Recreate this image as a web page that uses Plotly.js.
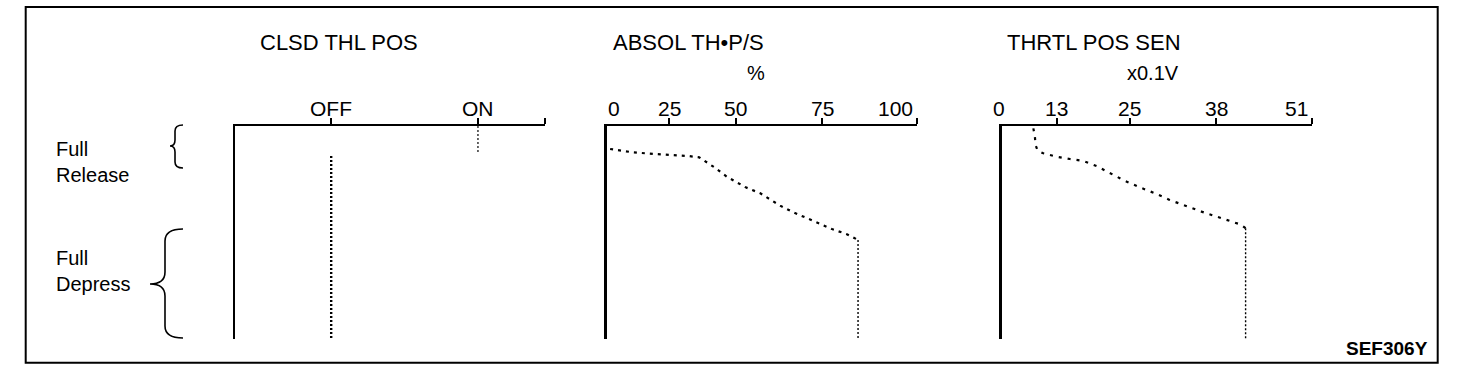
<!DOCTYPE html>
<html>
<head>
<meta charset="utf-8">
<script src="https://cdn.plot.ly/plotly-3.0.1.min.js"></script>
<style>html,body{margin:0;padding:0;background:#fff;}#chart{width:1472px;height:378px;}</style>
</head>
<body>
<div id="chart"></div>
<script>
// ---------- data (x in drawing units 0-100 along each top axis, y 0 = Full Release .. 100 = Full Depress) ----------
const panelTitles = ['CLSD THL POS', 'ABSOL TH\u2022P/S', 'THRTL POS SEN'];
const panelUnits  = ['', '%', 'x0.1V'];

const clsdTickPos  = [31.0, 78.3, 100];
const clsdTickText = ['OFF', 'ON', ''];
const absolTickPos  = [0, 20.1, 41.6, 69.4, 100];
const absolTickText = ['0', '25', '50', '75', '100'];
const tpsTickPos  = [0, 17.7, 41.3, 69.2, 100];
const tpsTickText = ['0', '13', '25', '38', '51'];

// CLSD THL POS: ON near full release, then OFF
const clsdOnX  = [78.3, 78.3];
const clsdOnY  = [0, 13.1];
const clsdOffX = [31.0, 31.0];
const clsdOffY = [14.1, 100];

// ABSOL TH-P/S curve (last point = vertical drop to full depress)
const absolX = [1.1, 8.1, 15.0, 22.6, 26.3, 29.8, 32.8, 34.9, 38.7, 40.8, 44.8, 49.5, 53.5, 55.9, 59.7, 64.0, 68.8, 72.6, 77.4, 81.0, 81.0];
const absolY = [10.8, 12.3, 13.1, 13.6, 14.1, 14.7, 17.5, 19.6, 23.8, 25.4, 28.8, 31.6, 35.2, 37.4, 40.2, 42.9, 46.0, 48.4, 50.8, 53.5, 100];

// THRTL POS SEN curve
const tpsX = [10.2, 10.7, 10.9, 11.6, 13.4, 17.7, 22.0, 26.3, 30.6, 34.6, 39.2, 44.5, 49.4, 54.1, 59.2, 64.4, 69.4, 74.2, 76.9, 78.6, 78.6];
const tpsY = [1.1, 5.0, 8.9, 11.6, 12.8, 14.4, 15.5, 16.4, 18.8, 21.9, 25.4, 28.8, 31.6, 34.7, 37.6, 40.2, 42.6, 44.7, 46.2, 48.0, 100];

const rowLabels = ['Full<br>Release', 'Full<br>Depress'];
const figureCode = 'SEF306Y';

// ---------- layout helpers ----------
const W = 1472, H = 378;
const px = x => x / W;
const py = y => 1 - y / H;
const FONT = 'Liberation Sans, Arial, Helvetica, sans-serif';
const plotTop = 126, plotBottom = 339;
const panelLeft = [235, 606.7, 1001.7];
const panelWidth = 310.3;

const traces = [];
function line(x, y, axis, width, dash) {
  traces.push({x: x, y: y, xaxis: 'x' + (axis === 1 ? '' : axis), yaxis: 'y' + (axis === 1 ? '' : axis),
    type: 'scatter', mode: 'lines', cliponaxis: false, hoverinfo: 'skip',
    line: {color: '#000', width: width, dash: dash}});
}
line(clsdOnX, clsdOnY, 1, 1.2, '2px,2px');
line(clsdOffX, clsdOffY, 1, 2.4, '2px,2px');
line(absolX.slice(0, -1), absolY.slice(0, -1), 2, 2.2, '3px,5px');
line(absolX.slice(-2), absolY.slice(-2), 2, 1.4, '2px,2px');
line(tpsX.slice(0, -1), tpsY.slice(0, -1), 3, 2.2, '3px,6px');
line(tpsX.slice(-2), tpsY.slice(-2), 3, 1.4, '2px,2px');

const layout = {
  width: W, height: H,
  margin: {l: 0, r: 0, t: 0, b: 0},
  paper_bgcolor: '#fff', plot_bgcolor: 'rgba(0,0,0,0)',
  showlegend: false,
  font: {family: FONT, color: '#000', size: 21},
  annotations: [], shapes: []
};

const tickSets = [[clsdTickPos, clsdTickText], [absolTickPos, absolTickText], [tpsTickPos, tpsTickText]];
const yDomain = [py(plotBottom), py(plotTop)];
for (let i = 0; i < 3; i++) {
  const sfx = i === 0 ? '' : String(i + 1);
  const dom = [px(panelLeft[i]), px(panelLeft[i] + panelWidth)];
  const tickVals = tickSets[i][0].filter(v => v > 0);
  layout['xaxis' + sfx] = {
    domain: dom, range: [0, 100], side: 'top', anchor: 'y' + sfx,
    showline: true, linecolor: '#000', linewidth: 2,
    ticks: 'outside', ticklen: 6, tickwidth: 2, tickcolor: '#000',
    tickvals: tickVals, showticklabels: false, showgrid: false, zeroline: false, fixedrange: true
  };
  layout['yaxis' + sfx] = {
    domain: yDomain, range: [100, 0], anchor: 'x' + sfx,
    showline: true, linecolor: '#000', linewidth: 2.4,
    ticks: '', showticklabels: false, showgrid: false, zeroline: false, fixedrange: true
  };
  // tick labels
  const vals = tickSets[i][0], texts = tickSets[i][1];
  vals.forEach((v, k) => {
    if (!texts[k]) return;
    let anchor = 'center', shift = 0;
    if (i === 1 && k === 0) { anchor = 'left'; shift = -1; }
    if (i === 2 && k === 0) { shift = -3; }
    if (k === vals.length - 1 && v === 100) { anchor = 'right'; shift = -2; }
    layout.annotations.push({
      xref: 'x' + sfx, yref: 'paper', x: v, y: py(108), xanchor: anchor, yanchor: 'middle',
      xshift: shift, text: texts[k], showarrow: false, font: {size: 21}
    });
  });
}

// panel titles and units
const titleX = [338.5, 688, 1094];
const unitX = [0, 756, 1152.5];
for (let i = 0; i < 3; i++) {
  layout.annotations.push({xref: 'paper', yref: 'paper', x: px(titleX[i]), y: py(42),
    xanchor: 'center', yanchor: 'middle', text: panelTitles[i], showarrow: false, font: {size: 22}});
  if (panelUnits[i]) layout.annotations.push({xref: 'paper', yref: 'paper', x: px(unitX[i]), y: py(73),
    xanchor: 'center', yanchor: 'middle', text: panelUnits[i], showarrow: false, font: {size: 20}});
}

// row labels
layout.annotations.push({xref: 'paper', yref: 'paper', x: px(54), y: py(162), xanchor: 'left', yanchor: 'middle',
  align: 'left', text: rowLabels[0], showarrow: false, font: {size: 20}});
layout.annotations.push({xref: 'paper', yref: 'paper', x: px(54), y: py(271), xanchor: 'left', yanchor: 'middle',
  align: 'left', text: rowLabels[1], showarrow: false, font: {size: 20}});
layout.annotations.push({xref: 'paper', yref: 'paper', x: px(1387), y: py(348), xanchor: 'center', yanchor: 'middle',
  text: '<b>' + figureCode + '</b>', showarrow: false, font: {size: 19}});

// braces
function brace(xR, xS, xTip, yT, yB, yTip, r) {
  const P = (x, y) => px(x).toFixed(5) + ',' + py(y).toFixed(5);
  return 'M' + P(xR, yT) + ' Q' + P(xS, yT) + ' ' + P(xS, yT + r) +
    ' L' + P(xS, yTip - r) + ' Q' + P(xS, yTip) + ' ' + P(xTip, yTip) +
    ' Q' + P(xS, yTip) + ' ' + P(xS, yTip + r) +
    ' L' + P(xS, yB - r) + ' Q' + P(xS, yB) + ' ' + P(xR, yB);
}
layout.shapes.push({type: 'path', xref: 'paper', yref: 'paper', path: brace(183, 175, 170, 125, 168, 146, 6), line: {color: '#000', width: 1.6}});
layout.shapes.push({type: 'path', xref: 'paper', yref: 'paper', path: brace(183, 165, 150, 229, 338, 284, 12), line: {color: '#000', width: 1.6}});

// outer frame
layout.shapes.push({type: 'rect', xref: 'paper', yref: 'paper', x0: px(25.7), x1: px(1437.7), y0: py(362.7), y1: py(7),
  line: {color: '#000', width: 2}, fillcolor: 'rgba(0,0,0,0)'});

Plotly.newPlot('chart', traces, layout, {staticPlot: true, displayModeBar: false});
</script>
</body>
</html>
